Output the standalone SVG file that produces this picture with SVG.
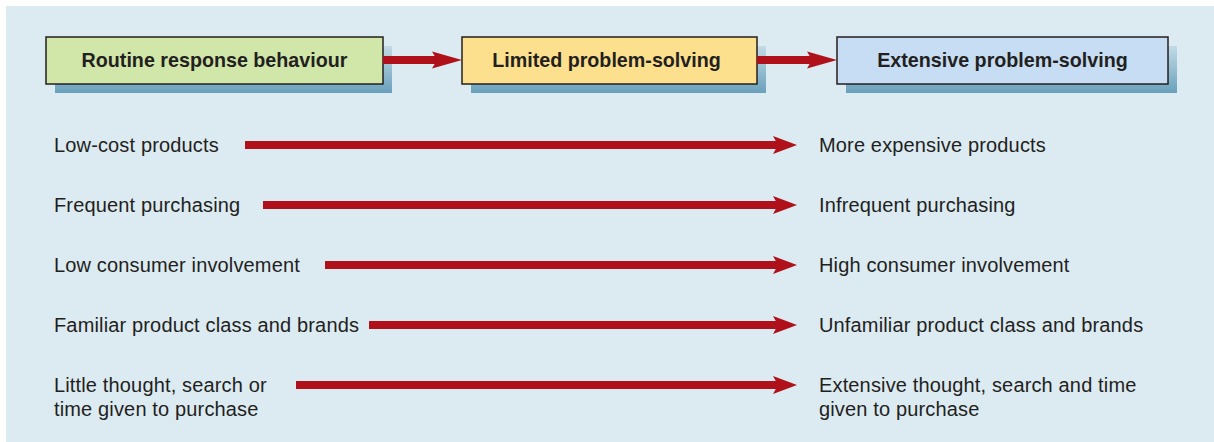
<svg xmlns="http://www.w3.org/2000/svg" width="1214" height="442" viewBox="0 0 1214 442">
<style>
.lbl{font-family:"Liberation Sans",Arial,sans-serif;font-size:20px;letter-spacing:0.15px;fill:#231f20;}
.ttl{font-family:"Liberation Sans",Arial,sans-serif;font-size:19.7px;font-weight:bold;fill:#231f20;text-anchor:middle;}
.box{stroke:#231f20;stroke-width:1.5;}
.shaft{stroke:#b0101a;stroke-width:8;fill:none;}
</style>
<defs>
<linearGradient id="sh" x1="0" y1="0" x2="0" y2="1">
<stop offset="0" stop-color="#c2dbe6"/>
<stop offset="1" stop-color="#6aa0bc"/>
</linearGradient>
<marker id="hTop" markerUnits="userSpaceOnUse" markerWidth="30" markerHeight="18" refX="8" refY="9" orient="auto" viewBox="0 0 30 18">
<path d="M0,0.5 L30,9 L0,17.5 L5,9 Z" fill="#b0101a"/>
</marker>
<marker id="hRow" markerUnits="userSpaceOnUse" markerWidth="24" markerHeight="19" refX="6" refY="9.5" orient="auto" viewBox="0 0 24 19">
<path d="M0,0.5 L24,9.5 L0,18.5 L5,9.5 Z" fill="#b0101a"/>
</marker>
</defs>
<rect x="6" y="6" width="1208" height="436" fill="#dceaf2"/>
<g id="node-routine">
<rect x="55" y="46" width="337" height="47" fill="url(#sh)"/>
<rect class="box" x="46" y="37" width="337" height="47" fill="#d1e6a9"/>
<text class="ttl" x="214.5" y="67">Routine response behaviour</text>
</g>
<g id="node-limited">
<rect x="471" y="46" width="295" height="47" fill="url(#sh)"/>
<rect class="box" x="462" y="37" width="295" height="47" fill="#fde08d"/>
<text class="ttl" x="606.5" y="67">Limited problem-solving</text>
</g>
<g id="node-extensive">
<rect x="846" y="46" width="331" height="47" fill="url(#sh)"/>
<rect class="box" x="837" y="37" width="331" height="47" fill="#c6ddf3"/>
<text class="ttl" x="1002.5" y="67">Extensive problem-solving</text>
</g>
<g id="labels">
<text class="lbl" x="54" y="152">Low-cost products</text>
<text class="lbl" x="819" y="152">More expensive products</text>
<text class="lbl" x="54" y="212">Frequent purchasing</text>
<text class="lbl" x="819" y="212">Infrequent purchasing</text>
<text class="lbl" x="54" y="272">Low consumer involvement</text>
<text class="lbl" x="819" y="272">High consumer involvement</text>
<text class="lbl" x="54" y="332">Familiar product class and brands</text>
<text class="lbl" x="819" y="332">Unfamiliar product class and brands</text>
<text class="lbl" x="54" y="392">Little thought, search or</text>
<text class="lbl" x="54" y="416">time given to purchase</text>
<text class="lbl" x="819" y="392">Extensive thought, search and time</text>
<text class="lbl" x="819" y="416">given to purchase</text>
</g>
<g id="connectors">
<line class="shaft" x1="383" y1="60" x2="440" y2="60" marker-end="url(#hTop)"/>
<line class="shaft" x1="757" y1="60" x2="815" y2="60" marker-end="url(#hTop)"/>
<line class="shaft" x1="245" y1="145" x2="779" y2="145" marker-end="url(#hRow)"/>
<line class="shaft" x1="263" y1="205" x2="779" y2="205" marker-end="url(#hRow)"/>
<line class="shaft" x1="325" y1="265" x2="779" y2="265" marker-end="url(#hRow)"/>
<line class="shaft" x1="369" y1="325" x2="779" y2="325" marker-end="url(#hRow)"/>
<line class="shaft" x1="296" y1="385" x2="779" y2="385" marker-end="url(#hRow)"/>
</g>
</svg>
